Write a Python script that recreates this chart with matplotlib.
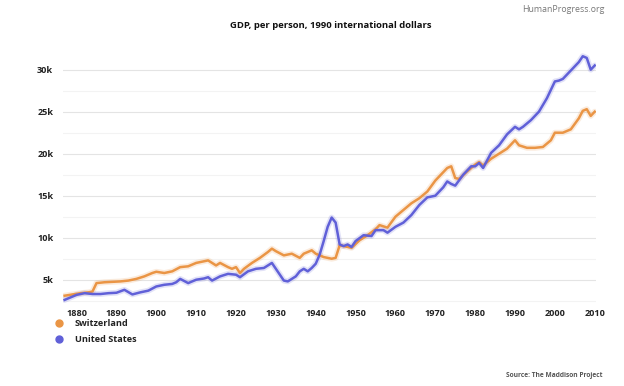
import matplotlib.pyplot as plt
from matplotlib.lines import Line2D
from matplotlib.ticker import MultipleLocator, FuncFormatter

plt.rcParams['font.family'] = ['Open Sans', 'DejaVu Sans']

# GDP per person, 1990 international dollars
ch_years = [1877, 1879, 1881, 1883, 1884, 1885, 1887, 1889, 1891, 1893, 1895,
            1897, 1899, 1900, 1902, 1904, 1906, 1908, 1910, 1912, 1913, 1915,
            1916, 1918, 1919, 1920, 1921, 1922, 1924, 1926, 1928, 1929, 1930,
            1932, 1934, 1936, 1937, 1939, 1940, 1942, 1944, 1945, 1946, 1947,
            1949, 1951, 1953, 1955, 1956, 1958, 1960, 1962, 1964, 1966, 1968,
            1970, 1972, 1973, 1974, 1975, 1976, 1978, 1980, 1981, 1982, 1984,
            1986, 1988, 1990, 1991, 1993, 1995, 1997, 1999, 2000, 2002, 2004,
            2006, 2007, 2008, 2009, 2010]
ch_gdp = [3100, 3250, 3400, 3500, 3600, 4600, 4700, 4750, 4800, 4900, 5100,
          5400, 5800, 5950, 5800, 6000, 6500, 6600, 7000, 7200, 7300, 6700,
          7000, 6500, 6300, 6500, 5800, 6300, 7000, 7600, 8300, 8700, 8400,
          7900, 8100, 7600, 8100, 8500, 8100, 7700, 7500, 7600, 9100, 9000,
          8800, 9700, 10300, 11000, 11500, 11200, 12500, 13300, 14100, 14700,
          15500, 16800, 17800, 18300, 18500, 17100, 17000, 17900, 18700, 19000,
          18600, 19400, 20000, 20600, 21600, 21000, 20700, 20700, 20800, 21600,
          22500, 22500, 22900, 24200, 25100, 25300, 24500, 25000]

us_years = [1877, 1879, 1880, 1882, 1884, 1886, 1888, 1890, 1892, 1894, 1896,
            1898, 1900, 1902, 1904, 1905, 1906, 1908, 1910, 1912, 1913, 1914,
            1916, 1918, 1920, 1921, 1923, 1925, 1927, 1929, 1930, 1931, 1932,
            1933, 1935, 1936, 1937, 1938, 1939, 1940, 1941, 1942, 1943, 1944,
            1945, 1946, 1947, 1948, 1949, 1950, 1952, 1954, 1955, 1957, 1958,
            1960, 1962, 1964, 1966, 1968, 1970, 1972, 1973, 1974, 1975, 1977,
            1979, 1980, 1981, 1982, 1984, 1986, 1988, 1990, 1991, 1992, 1994,
            1996, 1998, 2000, 2001, 2002, 2004, 2006, 2007, 2008, 2009, 2010]
us_gdp = [2600, 3000, 3200, 3400, 3300, 3300, 3400, 3450, 3800, 3250, 3500,
          3700, 4200, 4400, 4500, 4700, 5100, 4600, 5000, 5150, 5300, 4900,
          5400, 5700, 5600, 5300, 6000, 6300, 6400, 7000, 6300, 5600, 4900,
          4800, 5400, 6000, 6300, 6000, 6400, 6900, 8000, 9600, 11300, 12400,
          11800, 9200, 9000, 9200, 8900, 9600, 10300, 10200, 10900, 10900, 10600,
          11300, 11800, 12700, 13900, 14800, 15000, 16000, 16700, 16400, 16200,
          17500, 18500, 18500, 18900, 18300, 20100, 21000, 22300, 23200, 22900,
          23200, 24000, 25000, 26600, 28600, 28700, 28900, 29900, 30900, 31600,
          31400, 30000, 30500]

ch_color = '#EA9545'
us_color = '#6060D8'

fig = plt.figure(figsize=(6.24, 3.86), dpi=100)
ax = fig.add_axes([0.101, 0.21, 0.854, 0.653])

# soft glow under each line, then the line itself
for yrs, vals, col in [(ch_years, ch_gdp, ch_color), (us_years, us_gdp, us_color)]:
    ax.plot(yrs, vals, color=col, lw=4.2, alpha=0.18, solid_capstyle='round', zorder=2)
    ax.plot(yrs, vals, color=col, lw=1.8, solid_joinstyle='round', zorder=3)

ax.set_xlim(1876.6, 2010.3)
ax.set_ylim(2000, 32000)
ax.set_xticks(range(1880, 2011, 10))
ax.yaxis.set_major_locator(MultipleLocator(5000))
ax.yaxis.set_minor_locator(MultipleLocator(2500))
ax.set_yticks([5000, 10000, 15000, 20000, 25000, 30000])
ax.yaxis.set_major_formatter(FuncFormatter(lambda v, p: '%dk' % (v / 1000)))

ax.grid(axis='y', which='major', color='#e4e4e4', lw=0.8, zorder=0)
ax.grid(axis='y', which='minor', color='#f3f3f3', lw=0.8, zorder=0)
for s in ax.spines.values():
    s.set_visible(False)
ax.tick_params(axis='both', which='both', length=0, labelsize=6.6, colors='#222222')
ax.tick_params(axis='y', pad=7)
ax.tick_params(axis='x', pad=3)
for lab in ax.get_xticklabels() + ax.get_yticklabels():
    lab.set_fontweight('bold')

fig.text(0.53, 0.935, 'GDP, per person, 1990 international dollars',
         ha='center', va='center', fontsize=6.8, fontweight='bold', color='#111111')
fig.text(0.968, 0.975, 'HumanProgress.org', ha='right', va='center',
         fontsize=6.3, color='#777777')
fig.text(0.965, 0.028, 'Source: The Maddison Project', ha='right', va='center',
         fontsize=4.8, fontweight='bold', color='#555555')

handles = [Line2D([], [], marker='o', ls='', color=ch_color, markersize=5),
           Line2D([], [], marker='o', ls='', color=us_color, markersize=5)]
leg = fig.legend(handles, ['Switzerland', 'United States'], loc='upper left',
                 bbox_to_anchor=(0.082, 0.183), frameon=False, handletextpad=1.2,
                 labelspacing=0.75, borderaxespad=0, handlelength=1.0,
                 prop={'size': 6.6, 'weight': 'bold'})
for t in leg.get_texts():
    t.set_color('#222222')

fig.savefig('out.png', dpi=100, facecolor='white')
